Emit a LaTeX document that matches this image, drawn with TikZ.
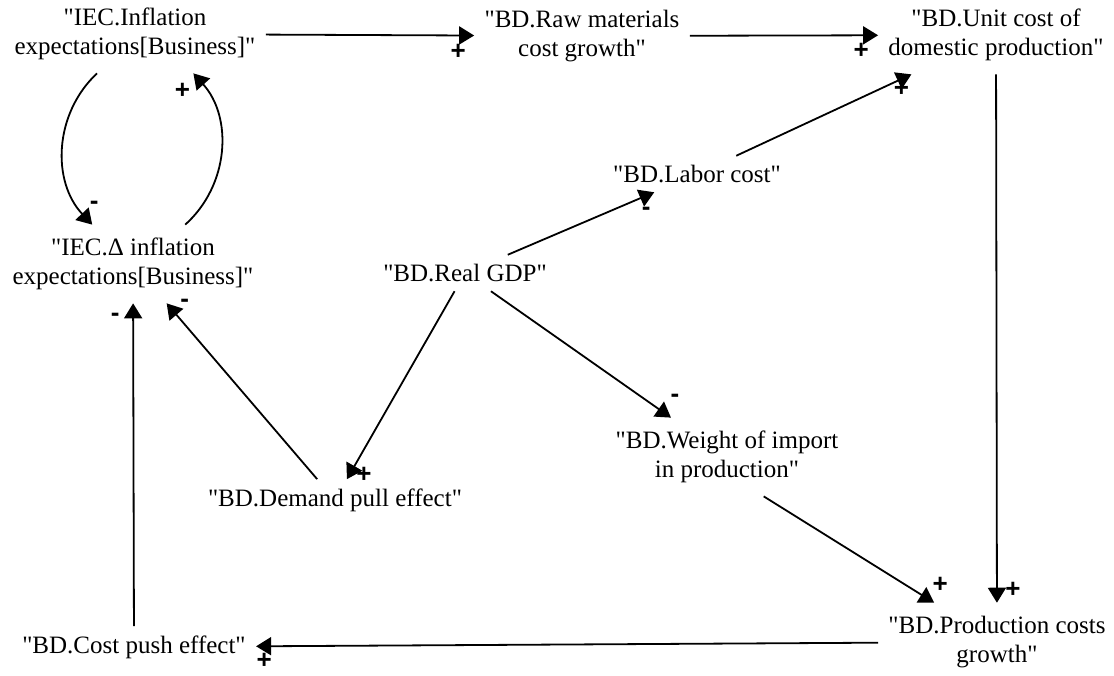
\documentclass[tikz,border=0pt]{standalone}
\usepackage{fontspec}
\setmainfont{Liberation Serif}[Ligatures=TeXOff]
\newfontfamily\signfont{Liberation Sans}
\usetikzlibrary{arrows.meta}

\begin{document}
\begin{tikzpicture}[x=0.5pt, y=-0.5pt,
    var/.style={align=center, inner xsep=5pt, inner ysep=4.5pt, font=\fontsize{12.5}{14.5}\selectfont},
    var2/.style={var, inner ysep=6.5pt},
    link/.style={line width=0.9pt, -{Triangle[length=7.5pt, width=9pt]}},
    sign/.style={font=\signfont\bfseries\fontsize{13}{13}\selectfont, inner sep=0pt, pos=1}]
  \useasboundingbox (0, 0) rectangle (1114, 675);
  \node [var2] (ie) at (135, 34) {"IEC.Inflation\\expectations[Business]"};
  \node [var2] (rm) at (582, 36) {"BD.Raw materials\\cost growth"};
  \node [var2] (uc) at (996, 35) {"BD.Unit cost of\\domestic production"};
  \node [var] (lc) at (697, 174) {"BD.Labor cost"};
  \node [var2] (di) at (133, 264) {"IEC.Δ inflation\\expectations[Business]"};
  \node [var] (gdp) at (465, 273) {"BD.Real GDP"};
  \node [var2] (wi) at (727, 457) {"BD.Weight of import\\in production"};
  \node [var] (dp) at (335, 500) {"BD.Demand pull effect"};
  \node [var] (cp) at (134, 647) {"BD.Cost push effect"};
  \node [var2] (pc) at (997, 642) {"BD.Production costs\\growth"};
  \draw[link] (ie) -- node[sign, shift={(-16, 16)}] {+} (rm);
  \draw[link] (rm) -- node[sign, shift={(-17, 16)}] {+} (uc);
  \draw[link] (lc) -- node[sign, shift={(-10, 15)}] {+} (uc);
  \draw[link] (gdp) -- node[sign, shift={(-8, 19)}] {-} (lc);
  \draw[link] (gdp) -- node[sign, shift={(17, -4)}] {+} (dp);
  \draw[link] (gdp) -- node[sign, shift={(4, -19)}] {-} (wi);
  \draw[link] (wi.-47) -- node[sign, shift={(6, -18)}] {+} (pc);
  \draw[link] (uc) -- node[sign, shift={(16, -13)}] {+} (pc);
  \draw[link] (pc) -- node[sign, shift={(8, 15)}] {+} (cp);
  \draw[link] (cp) -- node[sign, shift={(-18, 14)}] {-} (di);
  \draw[link] (dp) -- node[sign, shift={(18, 0)}] {-} (di);
  \draw[link] (ie.-134) to[bend right=45] node[sign, shift={(2, -19)}] {-} (di.136);
  \draw[link] (di.37) to[bend right=45] node[sign, shift={(-11, 18)}] {+} (ie.-34);
\end{tikzpicture}
\end{document}
